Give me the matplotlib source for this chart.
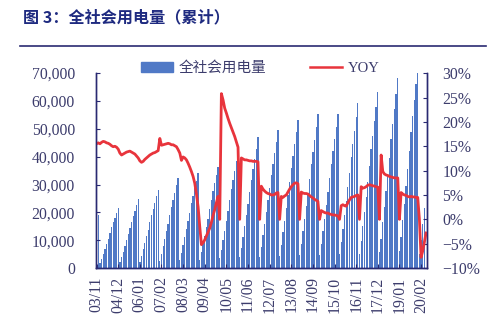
import numpy as np
import pandas as pd
import matplotlib
matplotlib.use("Agg")
import matplotlib.pyplot as plt
from matplotlib.lines import Line2D

# months 2003/11 .. 2020/05
months = pd.period_range("2003-11", "2020-05", freq="M")

# cumulative power consumption (100 million kWh), one row per year
power_cum = [
    17300, 18900,                                                                    # 2003
    1800, 3400, 5200, 6900, 8800, 10600, 12600, 14600, 16400, 18100, 19900, 21700,   # 2004
    2100, 3800, 5900, 7900, 10000, 12100, 14300, 16700, 18600, 20600, 22600, 24700,  # 2005
    2300, 4400, 6800, 9000, 11400, 13800, 16400, 19000, 21300, 23500, 25800, 28200,  # 2006
    2700, 5000, 7800, 10400, 13200, 15900, 18900, 21900, 24500, 27100, 29700, 32500, # 2007
    2800, 5300, 8200, 11000, 13900, 16800, 19900, 23200, 25900, 28600, 31400, 34300, # 2008
    3000, 5600, 8700, 11600, 14700, 17800, 21100, 24600, 27500, 30400, 33300, 36400, # 2009
    3500, 6500, 10100, 13400, 17000, 20500, 24300, 28300, 31600, 35000, 38300, 41900,  # 2010
    3900, 7300, 11300, 15000, 19000, 23000, 27200, 31700, 35400, 39200, 42900, 46900,  # 2011
    4100, 7700, 11900, 15900, 20100, 24300, 28800, 33500, 37400, 41400, 45400, 49600,  # 2012
    4400, 8200, 12800, 17000, 21500, 26100, 30900, 35900, 40200, 44400, 48700, 53200,  # 2013
    4600, 8600, 13200, 17700, 22400, 27000, 32000, 37300, 41700, 46100, 50500, 55200,  # 2014
    4600, 8600, 13300, 17800, 22500, 27200, 32200, 37500, 41900, 46300, 50800, 55500,  # 2015
    4900, 9200, 14200, 18900, 24000, 29000, 34300, 40000, 44700, 49400, 54200, 59200,  # 2016
    5200, 9800, 15100, 20200, 25600, 30900, 36600, 42600, 47600, 52700, 57700, 63100,  # 2017
    5700, 10600, 16400, 21900, 27700, 33500, 39700, 46200, 51600, 57100, 62600, 68400, # 2018
    6000, 11200, 17400, 23100, 29300, 35400, 41900, 48800, 54600, 60400, 66200, 72300, # 2019
    5000, 10200, 15700, 21600, np.nan,                                                 # 2020
]

# cumulative YoY growth (%)
yoy = [
    15.5, 15.7,
    15.5, 15.8, 16.0, 15.9, 15.7, 15.6, 15.4, 15.1, 14.9, 15.0, 14.8, 14.4,
    13.6, 13.2, 13.4, 13.6, 13.8, 13.9, 14.0, 13.8, 13.6, 13.4, 13.0, 12.6,
    12.0, 11.7, 11.9, 12.3, 12.6, 12.9, 13.2, 13.4, 13.6, 13.7, 13.9, 14.1,
    16.6, 15.2, 15.3, 15.4, 15.5, 15.6, 15.5, 15.3, 15.3, 15.1, 14.9, 14.3,
    13.6, 12.1, 12.8, 12.6, 12.2, 11.5, 10.7, 9.8, 8.8, 7.4, 5.2, 2.6,
    -1.5, -5.2, -4.8, -4.2, -3.4, -2.6, -1.8, -0.6, 0.8, 2.0, 3.4, 4.7,
    0.0, 25.8, 24.5, 22.8, 21.8, 20.7, 19.7, 18.8, 17.9, 17.0, 15.9, 14.8,
    0.0, 12.6, 12.4, 12.2, 12.2, 12.1, 12.0, 12.0, 11.9, 11.9, 11.9, 11.8,
    0.0, 6.8, 6.2, 5.8, 5.5, 5.3, 5.2, 5.0, 5.0, 5.1, 5.4, 5.5,
    0.0, 4.7, 4.5, 4.8, 5.0, 5.6, 6.2, 6.7, 7.1, 7.4, 7.5, 7.3,
    0.0, 5.6, 5.4, 5.3, 5.3, 5.2, 4.9, 4.6, 4.4, 4.1, 3.9, 3.7,
    0.0, 1.8, 1.6, 1.4, 1.3, 1.3, 1.1, 1.0, 0.9, 0.9, 0.8, 0.7,
    0.0, 2.8, 3.0, 2.8, 2.7, 3.4, 4.0, 4.5, 4.6, 4.7, 4.9, 5.0,
    0.0, 6.7, 6.4, 6.5, 6.7, 7.0, 7.1, 7.0, 6.9, 6.8, 6.7, 6.6,
    0.0, 13.2, 9.8, 9.3, 9.1, 9.0, 8.8, 8.7, 8.6, 8.5, 8.5, 8.5,
    0.0, 5.5, 5.2, 5.0, 4.9, 4.7, 4.6, 4.7, 4.6, 4.6, 4.5, 4.5,
    0.0, -7.8, -6.5, -4.7, -2.8,
]

tick_labels = ["03/11", "04/12", "06/01", "07/02", "08/03", "09/04", "10/05", "11/06",
               "12/07", "13/08", "14/09", "15/10", "16/11", "17/12", "19/01", "20/02"]

NAVY = "#2a2a72"
LABEL = "#3c3c6c"
BLUE = "#5079c6"
RED = "#e8343c"
plt.rcParams["font.family"] = ["Liberation Serif", "Noto Sans CJK SC"]


def main():
    fig = plt.figure(figsize=(5.04, 3.18), dpi=100)
    ax = fig.add_axes([0.190, 0.157, 0.657, 0.613])
    x = np.arange(len(months))

    ax.bar(x, power_cum, width=0.78, color=BLUE, linewidth=0)
    ax.set_xlim(-0.5, len(months) - 0.5)
    ax.set_ylim(0, 70000)
    ax.set_yticks(np.arange(0, 70001, 10000))
    ax.set_yticklabels([f"{v:,}" for v in range(0, 70001, 10000)])
    ax.set_xticks(x[::13])
    ax.set_xticklabels(tick_labels, rotation=90)

    ax2 = ax.twinx()
    ax2.plot(x, yoy, color=RED, linewidth=2.0)
    ax2.set_ylim(-10, 30)
    ax2.set_yticks(np.arange(-10, 31, 5))
    ax2.set_yticklabels([f"{v}%".replace("-", "\u2212") for v in range(-10, 31, 5)])

    for a in (ax, ax2):
        a.spines["top"].set_visible(False)
        for s in ("left", "right", "bottom"):
            a.spines[s].set_color(NAVY)
            a.spines[s].set_linewidth(1.0)
        a.tick_params(direction="in", colors=NAVY, labelcolor=LABEL,
                      labelsize=11.3, length=3, width=0.8)
    ax.tick_params(axis="y", pad=15)
    ax2.tick_params(axis="y", pad=11)
    ax.tick_params(axis="x", pad=6)

    handles = [plt.Rectangle((0, 0), 1, 1, color=BLUE),
               Line2D([], [], color=RED, linewidth=1.8)]
    leg = fig.legend(handles, ["全社会用电量", "YOY"], loc="center",
                     bbox_to_anchor=(0.517, 0.786), ncol=2, frameon=False,
                     handlelength=2.2, columnspacing=3.0, handletextpad=0.4,
                     fontsize=10.5)
    leg.get_texts()[0].set_fontfamily(["Noto Sans CJK SC"])
    leg.get_texts()[0].set_fontweight("light")
    for t in leg.get_texts():
        t.set_color(LABEL)

    fig.text(0.046, 0.945, "图 3：全社会用电量（累计）", fontsize=11.6,
             fontweight="bold", color="#1e2a80", family=["Noto Sans CJK SC"],
             va="center", ha="left")
    fig.add_artist(Line2D([20 / 504, 486 / 504], [1 - 46 / 318, 1 - 46 / 318],
                          color=NAVY, linewidth=1.2, transform=fig.transFigure))

    plt.savefig("out.png", dpi=100)


if __name__ == "__main__":
    main()
